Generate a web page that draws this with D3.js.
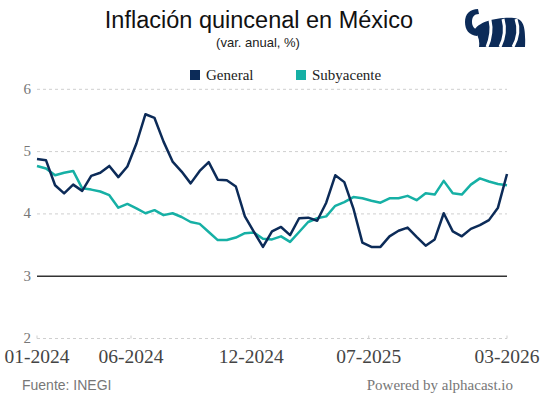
<!DOCTYPE html>
<html>
<head>
<meta charset="utf-8">
<script src="https://d3js.org/d3.v7.min.js"></script>
<style>
  html, body { margin: 0; padding: 0; background: #fff; }
  svg { display: block; }
</style>
</head>
<body>
<div id="chart"></div>
<script>
// Inflación quincenal en México - general vs subyacente (var. anual, %)

// biweekly points, 1Q Jan 2024 .. 1Q Mar 2026
const general = [4.88, 4.86, 4.46, 4.33, 4.47, 4.37, 4.61, 4.66, 4.77, 4.59,
  4.76, 5.13, 5.60, 5.54, 5.16, 4.84, 4.68, 4.49, 4.69, 4.83,
  4.55, 4.54, 4.44, 3.96, 3.71, 3.47, 3.72, 3.79, 3.66, 3.93,
  3.94, 3.89, 4.18, 4.62, 4.51, 4.09, 3.54, 3.47, 3.47, 3.64,
  3.73, 3.78, 3.63, 3.49, 3.59, 4.01, 3.72, 3.64, 3.76, 3.82,
  3.90, 4.10, 4.64];

const subyacente = [4.77, 4.73, 4.62, 4.66, 4.69, 4.41, 4.39, 4.36, 4.30, 4.10,
  4.16, 4.09, 4.01, 4.06, 3.98, 4.01, 3.95, 3.87, 3.84, 3.71,
  3.58, 3.58, 3.62, 3.69, 3.70, 3.60, 3.59, 3.64, 3.55, 3.71,
  3.87, 3.93, 3.96, 4.13, 4.19, 4.27, 4.25, 4.21, 4.18, 4.25,
  4.25, 4.29, 4.22, 4.33, 4.31, 4.53, 4.33, 4.31, 4.47, 4.57,
  4.52, 4.48, 4.46];

// x tick labels and where they sit (in point index units)
const tickLabels = ['01-2024', '06-2024', '12-2024', '07-2025', '03-2026'];
const tickIndex = [0, 10.4, 23.7, 36.7, 52];
const yTicks = [2, 3, 4, 5, 6];

const seriesNames = ['General', 'Subyacente'];
const colors = ['#0c2b58', '#16b0a5'];

const width = 544;
const height = 398;

const svg = d3.select('#chart')
  .append('svg')
  .attr('width', width)
  .attr('height', height)
  .style('background-color', '#fff');

const x = d3.scaleLinear().domain([0, general.length - 1]).range([37, 507]);
const y = d3.scaleLinear().domain([2, 6]).range([338.5, 89.3]);

// Title + subtitle
svg.append('text')
  .attr('x', 259)
  .attr('y', 28)
  .attr('text-anchor', 'middle')
  .style('font-family', '"Liberation Sans", Arial, sans-serif')
  .style('font-size', '23.5px')
  .style('fill', '#111')
  .text('Inflación quincenal en México');

svg.append('text')
  .attr('x', 258)
  .attr('y', 47)
  .attr('text-anchor', 'middle')
  .style('font-family', '"Liberation Sans", Arial, sans-serif')
  .style('font-size', '13px')
  .style('fill', '#222')
  .text('(var. anual, %)');

// Legend
const legendX = [190, 296];
const legend = svg.selectAll('.legend-item')
  .data(seriesNames)
  .enter()
  .append('g')
  .attr('class', 'legend-item')
  .attr('transform', (d, i) => `translate(${legendX[i]}, 70)`);

legend.append('rect')
  .attr('width', 10)
  .attr('height', 10)
  .style('fill', (d, i) => colors[i]);

legend.append('text')
  .attr('x', 16)
  .attr('y', 9.5)
  .style('font-family', '"Liberation Serif", "Times New Roman", serif')
  .style('font-size', '15px')
  .style('fill', '#222')
  .text(d => d);

// Logo (rough sketch of the mark)
const logo = svg.append('g').attr('class', 'logo');
logo.append('path')
  .attr('d', 'M478,9 C470,9 465,14 465,22 C465,30 469,35 477,36 L479,31 C474,29 472,26 472,22 C472,17 474,14 479,14 Z')
  .style('fill', '#0c2b58');
logo.append('path')
  .attr('d', 'M474,31 C478,22 496,17 514,18 C523,19 526,25 525,47 L479,47 C480,40 478,35 474,31 Z')
  .style('fill', '#0c2b58');
[[490, 20, 493, 33, 487, 47], [503, 19, 507, 33, 500, 47], [516, 19, 521, 33, 513, 47]].forEach(g => {
  logo.append('path')
    .attr('d', `M${g[0]},${g[1]} Q${g[2]},${g[3]} ${g[4]},${g[5]}`)
    .style('fill', 'none')
    .style('stroke', '#fff')
    .style('stroke-width', 3);
});

// Gridlines
svg.selectAll('.grid')
  .data(yTicks.filter(v => v !== 3))
  .enter()
  .append('line')
  .attr('class', 'grid')
  .attr('x1', 37)
  .attr('x2', 507)
  .attr('y1', d => y(d))
  .attr('y2', d => y(d))
  .style('stroke', '#cfcfcf')
  .style('stroke-width', 1)
  .style('stroke-dasharray', '3,3');

svg.append('line')
  .attr('x1', 37)
  .attr('x2', 507)
  .attr('y1', y(3))
  .attr('y2', y(3))
  .style('stroke', '#333')
  .style('stroke-width', 1.5);

// Y labels
svg.selectAll('.y-label')
  .data(yTicks)
  .enter()
  .append('text')
  .attr('class', 'y-label')
  .attr('x', 31)
  .attr('y', d => y(d) + 4.5)
  .attr('text-anchor', 'end')
  .style('font-family', '"Liberation Serif", "Times New Roman", serif')
  .style('font-size', '15px')
  .style('fill', '#777')
  .text(d => d);

// X axis ticks and labels
svg.selectAll('.x-tick')
  .data(tickIndex)
  .enter()
  .append('line')
  .attr('class', 'x-tick')
  .attr('x1', d => x(d))
  .attr('x2', d => x(d))
  .attr('y1', y(2) - 3)
  .attr('y2', y(2))
  .style('stroke', '#cfcfcf')
  .style('stroke-width', 1);

svg.selectAll('.x-label')
  .data(tickIndex)
  .enter()
  .append('text')
  .attr('class', 'x-label')
  .attr('x', d => x(d))
  .attr('y', 363)
  .attr('text-anchor', 'middle')
  .style('font-family', '"Liberation Serif", "Times New Roman", serif')
  .style('font-size', '19.5px')
  .style('fill', '#444')
  .text((d, i) => tickLabels[i]);

// Lines
const line = d3.line()
  .x((d, i) => x(i))
  .y(d => y(d));

[subyacente, general].forEach((series, k) => {
  svg.append('path')
    .datum(series)
    .attr('d', line)
    .style('fill', 'none')
    .style('stroke', k === 0 ? colors[1] : colors[0])
    .style('stroke-width', 2.5)
    .style('stroke-linejoin', 'round');
});

// Footer
svg.append('text')
  .attr('x', 22)
  .attr('y', 390)
  .style('font-family', '"Liberation Sans", Arial, sans-serif')
  .style('font-size', '14px')
  .style('fill', '#777')
  .text('Fuente: INEGI');

svg.append('text')
  .attr('x', 513)
  .attr('y', 390)
  .attr('text-anchor', 'end')
  .style('font-family', '"Liberation Serif", "Times New Roman", serif')
  .style('font-size', '15px')
  .style('fill', '#777')
  .text('Powered by alphacast.io');
</script>
</body>
</html>
